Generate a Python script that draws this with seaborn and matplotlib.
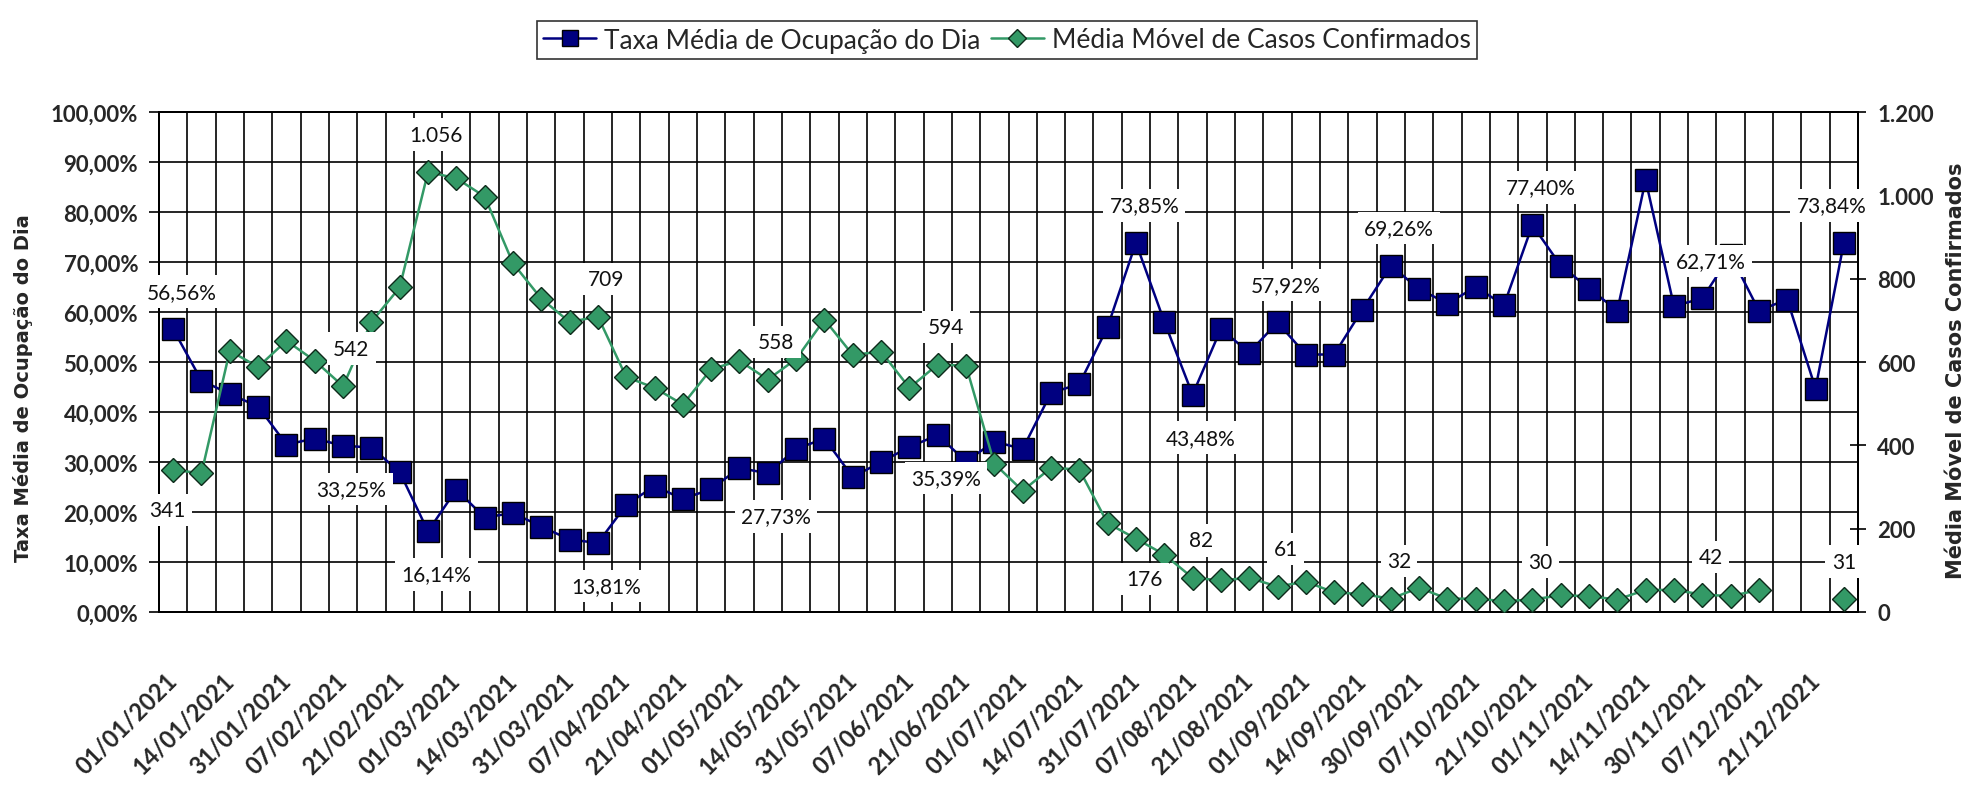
import numpy as np
import pandas as pd
import seaborn as sns
import matplotlib

matplotlib.use("Agg")
import matplotlib.pyplot as plt
from matplotlib.lines import Line2D
from matplotlib.ticker import FuncFormatter, MultipleLocator

# Data: one point per category, 60 categories
date_labels = [
    "01/01/2021", "14/01/2021", "31/01/2021", "07/02/2021", "21/02/2021",
    "01/03/2021", "14/03/2021", "31/03/2021", "07/04/2021", "21/04/2021",
    "01/05/2021", "14/05/2021", "31/05/2021", "07/06/2021", "21/06/2021",
    "01/07/2021", "14/07/2021", "31/07/2021", "07/08/2021", "21/08/2021",
    "01/09/2021", "14/09/2021", "30/09/2021", "07/10/2021", "21/10/2021",
    "01/11/2021", "14/11/2021", "30/11/2021", "07/12/2021", "21/12/2021",
]

# Taxa Média de Ocupação do Dia (%)
taxa_ocupacao = [
    56.56, 46.3, 43.6, 41.1, 33.5, 34.7, 33.25, 32.9, 28.0, 16.14,
    24.5, 18.9, 19.8, 17.1, 14.5, 13.81, 21.4, 25.2, 22.6, 24.6,
    28.8, 27.73, 32.6, 34.7, 27.0, 30.0, 33.0, 35.39, 30.1, 34.1,
    32.6, 43.8, 45.6, 57.0, 73.85, 58.1, 43.48, 56.6, 51.9, 57.92,
    51.5, 51.5, 60.5, 69.26, 64.6, 61.7, 65.0, 61.4, 77.40, 69.3,
    64.7, 60.3, 86.4, 61.2, 62.71, 71.4, 60.3, 62.5, 44.7, 73.84,
]

# Média Móvel de Casos Confirmados (None = sem valor)
casos_media_movel = [
    341, 333, 627, 588, 651, 603, 542, 696, 779, 1056,
    1041, 997, 837, 752, 696, 709, 564, 538, 498, 583,
    603, 558, 607, 702, 617, 625, 538, 594, 591, 356,
    291, 346, 342, 213, 176, 138, 82, 76, 82, 61,
    73, 47, 43, 32, 58, 32, 32, 26, 30, 40,
    38, 30, 53, 53, 42, 38, 53, None, None, 31,
]

label_idx = [0, 6, 9, 15, 21, 27, 34, 36, 39, 43, 48, 54, 59]
taxa_label_above = [True, False, False, False, False, False, True, False, True, True, True, True, True]
casos_label_above = [False, True, True, True, True, True, False, True, True, True, True, True, True]

BLUE = "#000080"
GREEN = "#339966"

sns.set_style("white")
plt.rcParams["font.family"] = ["Lato", "DejaVu Sans"]

n = len(taxa_ocupacao)
df = pd.DataFrame({
    "ponto": np.arange(n),
    "taxa": taxa_ocupacao,
    "casos": pd.array(casos_media_movel, dtype="Float64").astype(float),
})
# break the green line where values are missing
df["trecho"] = df["casos"].isna().cumsum()
df_casos = df.dropna(subset=["casos"])

fig = plt.figure(figsize=(19.73, 8.04), dpi=100)
ax = fig.add_axes([159 / 1973, 1 - 613 / 804, 1699 / 1973, 500 / 804])
ax2 = ax.twinx()

sns.lineplot(data=df, x="ponto", y="taxa", ax=ax, color=BLUE, linewidth=1.8,
             marker="s", markersize=16, markerfacecolor=BLUE,
             markeredgecolor="black", markeredgewidth=1.0, zorder=3)
sns.lineplot(data=df_casos, x="ponto", y="casos", units="trecho", estimator=None,
             ax=ax2, color=GREEN, linewidth=1.8, marker="D", markersize=12.5,
             markerfacecolor=GREEN, markeredgecolor="#0d2a1a", markeredgewidth=1.0,
             zorder=3)

# axes ranges and ticks
ax.set_xlim(-0.5, n - 0.5)
ax.set_ylim(0, 100)
ax2.set_ylim(0, 1200)
ax.yaxis.set_major_locator(MultipleLocator(10))
ax2.yaxis.set_major_locator(MultipleLocator(200))
ax.yaxis.set_major_formatter(FuncFormatter(lambda v, p: f"{v:.2f}%".replace(".", ",")))
ax2.yaxis.set_major_formatter(FuncFormatter(lambda v, p: f"{v:,.0f}".replace(",", ".")))

ax.set_xticks(np.arange(0, n, 2))
ax.set_xticklabels(date_labels, rotation=45, ha="right", va="center",
                   rotation_mode="anchor", fontsize=17, fontweight="bold")
ax.set_xticks(np.arange(-0.5, n, 1), minor=True)

ax.tick_params(axis="x", which="major", length=0, pad=46)
ax.tick_params(axis="x", which="minor", length=7, width=1.2, color="black", direction="out")
ax.tick_params(axis="y", length=7, width=1.2, color="black", direction="out", pad=8,
               labelsize=16, left=True)
ax2.tick_params(axis="y", length=12, width=1.2, color="black", direction="inout", pad=8,
                labelsize=16, right=True)
for lab in ax.get_yticklabels() + ax2.get_yticklabels():
    lab.set_fontweight("bold")

# grid: horizontal every 10%, vertical at category boundaries
ax.set_axisbelow(True)
ax.grid(False)
ax.grid(which="major", axis="y", color="black", linewidth=1.2)
ax.grid(which="minor", axis="x", color="black", linewidth=1.2)
ax2.grid(False)

for a in (ax, ax2):
    for sp in a.spines.values():
        sp.set_color("black")
        sp.set_linewidth(1.4)
        sp.set_visible(True)

ax.set_xlabel("")
ax.set_ylabel("")
ax2.set_xlabel("")
ax2.set_ylabel("")

fig.text(23 / 1973, 1 - 388 / 804, "Taxa Média de Ocupação do Dia", rotation=90,
         ha="center", va="center", fontsize=14, fontweight="bold", family="DejaVu Sans")
fig.text(1956 / 1973, 1 - 371 / 804, "Média Móvel de Casos Confirmados", rotation=90,
         ha="center", va="center", fontsize=15, fontweight="bold", family="DejaVu Sans")


def label_dx(i):
    # keep the first and last labels inside the plot area
    if i == 0:
        return -4
    if i == n - 1:
        return -9
    return 6


# data labels with white boxes
box = dict(boxstyle="square,pad=0.3", facecolor="white", edgecolor="none")
for i, above in zip(label_idx, taxa_label_above):
    v = taxa_ocupacao[i]
    ax2.annotate(f"{v:.2f}%".replace(".", ","), xy=(i, v), xycoords=ax.transData,
                 xytext=(label_dx(i) + (10 if i == 0 else 0), 27 if above else -31),
                 textcoords="offset points",
                 ha="center", va="center", fontsize=15, color="#111111",
                 bbox=box, zorder=10)
for i, above in zip(label_idx, casos_label_above):
    v = casos_media_movel[i]
    ax2.annotate(f"{v:,.0f}".replace(",", "."), xy=(i, v), xycoords=ax2.transData,
                 xytext=(label_dx(i) + (9 if i == n - 1 else 0), 27 if above else -29),
                 textcoords="offset points",
                 ha="center", va="center", fontsize=15, color="#111111",
                 bbox=box, zorder=10)

handles = [
    Line2D([], [], color=BLUE, linewidth=1.8, marker="s", markersize=11,
           markerfacecolor=BLUE, markeredgecolor="black"),
    Line2D([], [], color=GREEN, linewidth=1.8, marker="D", markersize=9,
           markerfacecolor=GREEN, markeredgecolor="#0d2a1a"),
]
leg = fig.legend(handles, ["Taxa Média de Ocupação do Dia", "Média Móvel de Casos Confirmados"],
                 loc="center", bbox_to_anchor=(1007 / 1973, 1 - 41 / 804), ncol=2,
                 fontsize=19, frameon=True, fancybox=False, handlelength=2.0,
                 handletextpad=0.3, columnspacing=0.4, borderpad=0.25, borderaxespad=0)
leg.get_frame().set_edgecolor("black")
leg.get_frame().set_linewidth(1.2)

fig.savefig("out.png", dpi=100)
